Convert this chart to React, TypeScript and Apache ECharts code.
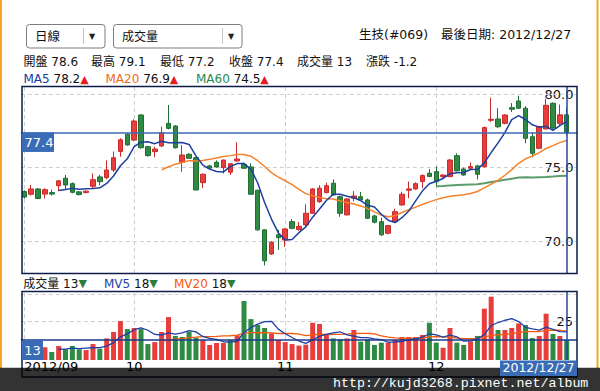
import React, { useEffect, useRef } from 'react';
import * as echarts from 'echarts';

const dates = [
  '2012/09/07', '2012/09/10', '2012/09/11', '2012/09/12', '2012/09/13', '2012/09/14', '2012/09/17', '2012/09/18',
  '2012/09/19', '2012/09/20', '2012/09/21', '2012/09/24', '2012/09/25', '2012/09/26', '2012/09/27', '2012/09/28',
  '2012/10/01', '2012/10/02', '2012/10/03', '2012/10/04', '2012/10/05', '2012/10/08', '2012/10/09', '2012/10/11',
  '2012/10/12', '2012/10/15', '2012/10/16', '2012/10/17', '2012/10/18', '2012/10/19', '2012/10/22', '2012/10/23',
  '2012/10/24', '2012/10/25', '2012/10/26', '2012/10/29', '2012/10/30', '2012/10/31',
  '2012/11/01', '2012/11/02', '2012/11/05', '2012/11/06', '2012/11/07', '2012/11/08', '2012/11/09', '2012/11/12',
  '2012/11/13', '2012/11/14', '2012/11/15', '2012/11/16', '2012/11/19', '2012/11/20', '2012/11/21', '2012/11/22',
  '2012/11/23', '2012/11/26', '2012/11/27', '2012/11/28', '2012/11/29', '2012/11/30',
  '2012/12/03', '2012/12/04', '2012/12/05', '2012/12/06', '2012/12/07', '2012/12/10', '2012/12/11', '2012/12/12',
  '2012/12/13', '2012/12/14', '2012/12/17', '2012/12/18', '2012/12/19', '2012/12/20', '2012/12/21', '2012/12/22',
  '2012/12/24', '2012/12/25', '2012/12/26', '2012/12/27',
];

const opens = [
  73.37, 73.19, 73.55, 73.2, 73.3, 73.77, 74.28, 73.91, 73.35, 73.3,
  73.73, 74.37, 74.32, 74.84, 76.1, 77.28, 76.88, 78.59, 76.43, 76.09,
  76.48, 78.02, 77.84, 75.37, 75.91, 75.68, 73.98, 75.12, 75.37, 75.0,
  74.69, 75.46, 75.23, 75.05, 73.46, 70.76, 69.12, 70.42, 70.07, 71.32,
  70.78, 71.1, 71.89, 72.68, 73.3, 73.94, 73.02, 71.78, 72.92, 73.02,
  72.8, 71.71, 71.32, 70.53, 71.32, 72.46, 73.46, 73.55, 74.05, 74.62,
  74.73, 74.39, 74.39, 75.82, 74.91, 74.96, 75.12, 75.07, 78.23, 78.32,
  78.02, 79.09, 79.54, 79.05, 77.11, 76.32, 77.64, 79.39, 78.02, 78.6,
];

const closes = [
  73.0, 73.55, 72.9, 73.5, 73.2, 74.1, 73.82, 73.32, 73.17, 73.4,
  74.18, 74.05, 74.84, 75.68, 76.9, 76.55, 78.18, 76.36, 75.82, 76.27,
  77.38, 77.68, 76.36, 75.86, 75.64, 73.48, 74.55, 74.96, 75.05, 75.52,
  75.27, 75.59, 74.96, 73.19, 70.76, 68.65, 69.92, 70.23, 70.82, 70.87,
  71.0, 71.89, 73.55, 73.6, 73.77, 73.14, 71.89, 72.87, 73.07, 72.8,
  71.55, 71.28, 70.42, 71.05, 72.0, 73.19, 73.55, 73.91, 74.46, 74.4,
  74.05, 74.5, 75.52, 74.78, 74.5, 75.07, 74.55, 77.73, 78.3, 77.79,
  78.59, 78.98, 79.05, 77.0, 75.98, 77.8, 79.25, 77.7, 78.6, 77.4,
];

const lows = [
  72.9, 73.1, 72.85, 72.9, 73.1, 73.4, 73.5, 73.25, 73.1, 73.25,
  73.6, 73.8, 74.2, 74.7, 75.75, 76.5, 76.8, 76.3, 75.75, 75.7,
  76.4, 77.6, 76.3, 74.72, 75.6, 73.45, 73.6, 74.9, 75.0, 74.6,
  74.5, 75.4, 74.9, 73.15, 70.7, 68.33, 69.05, 69.4, 69.6, 70.8,
  70.7, 71.0, 71.85, 72.6, 73.25, 73.1, 71.65, 71.75, 72.7, 72.75,
  71.5, 71.2, 70.35, 70.45, 71.3, 72.4, 72.92, 73.5, 73.6, 74.35,
  73.7, 74.3, 74.35, 74.75, 74.45, 74.9, 74.2, 75.0, 78.1, 77.7,
  77.95, 78.8, 79.0, 76.66, 75.7, 76.25, 77.6, 77.6, 77.9, 77.2,
];

const highs = [
  73.45, 73.82, 73.6, 73.6, 73.5, 74.15, 74.5, 74.0, 73.4, 73.45,
  74.6, 74.5, 75.5, 76.1, 77.0, 77.35, 78.3, 78.65, 76.5, 76.43,
  77.8, 79.27, 77.9, 76.54, 76.0, 75.75, 74.6, 75.2, 75.5, 75.55,
  75.3, 76.73, 75.35, 75.3, 73.5, 70.8, 70.0, 70.76, 70.85, 71.5,
  71.3, 72.5, 73.6, 73.8, 73.98, 74.2, 73.1, 72.9, 73.4, 73.35,
  72.9, 71.8, 71.6, 71.1, 72.2, 73.35, 74.05, 74.0, 74.55, 74.9,
  75.07, 74.55, 75.6, 75.98, 75.0, 75.35, 75.2, 77.8, 79.77, 79.05,
  78.65, 79.4, 79.9, 79.2, 77.4, 77.85, 79.7, 79.45, 79.3, 79.1,
];

const volumes = [
  7.0, 6.5, 6.0, 8.3, 5.2, 9.1, 7.0, 9.1, 7.0, 6.5,
  10.4, 7.4, 14.1, 18.3, 25.4, 20.2, 20.9, 20.2, 10.4, 11.7,
  18.3, 28.0, 15.7, 15.0, 18.5, 14.6, 13.0, 9.8, 11.1, 11.1,
  13.0, 16.1, 38.5, 26.7, 22.8, 20.9, 17.4, 13.0, 11.7, 10.4,
  9.4, 10.0, 24.3, 23.5, 16.7, 14.1, 13.5, 14.1, 19.6, 12.0,
  13.5, 9.8, 11.3, 11.3, 13.0, 15.0, 15.0, 15.0, 16.3, 24.3,
  11.3, 8.0, 20.9, 11.3, 9.8, 12.2, 15.7, 33.5, 41.3, 19.6,
  19.6, 20.9, 23.9, 22.8, 14.3, 15.7, 30.2, 17.0, 15.7, 13.0,
];

const priceTicks = [70, 75, 80];
const volumeTicks = [25];
const volumeGuides = [25, 43];
const stockLabel = '生技(#069)';
const lastDateLabel = '最後日期:';
const periodLabel = '日線';
const indicatorLabel = '成交量';
const watermark = 'http://kujd3268.pixnet.net/album';

const FONT = "'DejaVu Sans', 'Noto Sans CJK TC', sans-serif";
const RED = '#e63d3d';
const RED_B = '#c92a2a';
const GREEN = '#2f8a43';
const GREEN_B = '#1f6e32';
const BLUE_BOX = '#3a6cb5';
const FRAME = '#0d1c4a';

function movingAverage(values: number[], n: number): (number | string)[] {
  return values.map((_, i) => {
    if (i < n) return '-';
    let s = 0;
    for (let j = i - n + 1; j <= i; j++) s += values[j];
    return +(s / n).toFixed(4);
  });
}

function avgAt(values: number[], n: number, i: number): number {
  let s = 0;
  for (let j = i - n + 1; j <= i; j++) s += values[j];
  return s / n;
}

export default function App() {
  const ref = useRef<HTMLDivElement>(null);

  useEffect(() => {
    const el = ref.current;
    if (!el) return;
    const chart = echarts.init(el, null, { renderer: 'svg' });

    const n = dates.length;
    const last = n - 1;
    const axisDates = [...dates, ''];
    const monthStarts = dates
      .map((d, i) => (i === 0 || d.slice(5, 7) !== dates[i - 1].slice(5, 7) ? i : -1))
      .filter((i) => i >= 0);

    const candles = dates.map((_, i) => [opens[i], closes[i], lows[i], highs[i]]);
    const volData = volumes.map((v, i) => {
      const up = i === 0 ? closes[0] >= opens[0] : closes[i] >= closes[i - 1];
      return { value: v, itemStyle: { color: up ? RED : GREEN } };
    });

    const ma5 = movingAverage(closes, 5);
    const ma20 = movingAverage(closes, 20);
    const ma60 = movingAverage(closes, 60);
    const mv5 = movingAverage(volumes, 5);
    const mv20 = movingAverage(volumes, 20);

    const gridLeft = 20.87;
    const gridWidth = 556.13;

    const guideStyle = { color: '#cfcfcf', type: [4, 3] as any, width: 1 };

    chart.setOption({
      animation: false,
      backgroundColor: '#ffffff',
      grid: [
        { left: gridLeft, top: 86, width: gridWidth, height: 187 },
        { left: gridLeft, top: 291.5, width: gridWidth, height: 68.5 },
      ],
      xAxis: [
        {
          type: 'category', gridIndex: 0, data: axisDates, boundaryGap: true,
          axisLine: { show: false }, axisTick: { show: false }, axisLabel: { show: false }, splitLine: { show: false },
        },
        {
          type: 'category', gridIndex: 1, data: axisDates, boundaryGap: true,
          axisLine: { show: false }, axisTick: { show: false }, splitLine: { show: false },
          axisLabel: {
            interval: (i: number) => monthStarts.includes(i),
            formatter: (v: string, i: number) => (i === 0 ? v.slice(0, 7) : String(Number(v.slice(5, 7)))),
            color: '#000', fontSize: 13, lineHeight: 13, fontFamily: FONT, margin: 0, alignMinLabel: 'left',
          },
        },
      ],
      yAxis: [
        {
          type: 'value', gridIndex: 0, position: 'right', min: 67.82, max: 80.566,
          axisLine: { show: false }, axisTick: { show: false }, splitLine: { show: false },
          axisLabel: {
            inside: true, margin: 3.5, customValues: priceTicks,
            formatter: (v: number) => v.toFixed(1), color: '#111', fontSize: 13, fontFamily: FONT,
          },
        },
        {
          type: 'value', gridIndex: 1, position: 'right', min: 0, max: 44.7,
          axisLine: { show: false }, axisTick: { show: false }, splitLine: { show: false },
          axisLabel: {
            inside: true, margin: 4, customValues: volumeTicks,
            formatter: (v: number) => String(v), color: '#111', fontSize: 13, fontFamily: FONT,
          },
        },
      ],
      series: [
        {
          type: 'candlestick', xAxisIndex: 0, yAxisIndex: 0, data: candles, barWidth: 5, silent: true,
          itemStyle: { color: RED, color0: GREEN, borderColor: RED_B, borderColor0: GREEN_B, borderWidth: 1 },
          markLine: {
            silent: true, z: 1, symbol: ['none', 'none'], label: { show: false }, lineStyle: guideStyle,
            emphasis: { disabled: true },
            data: [
              ...priceTicks.map((v) => ({ yAxis: v })),
              ...monthStarts.map((i) => ({ xAxis: dates[i] })),
            ],
          },
        },
        {
          type: 'line', xAxisIndex: 0, yAxisIndex: 0, data: ma60, showSymbol: false, symbol: 'none', silent: true,
          lineStyle: { color: '#5a9d6a', width: 2 },
        },
        {
          type: 'line', xAxisIndex: 0, yAxisIndex: 0, data: ma20, showSymbol: false, symbol: 'none', silent: true,
          lineStyle: { color: '#f5822a', width: 1.5 },
        },
        {
          type: 'line', xAxisIndex: 0, yAxisIndex: 0, data: ma5, showSymbol: false, symbol: 'none', silent: true,
          lineStyle: { color: '#1d3fa0', width: 1.5 },
          markLine: {
            silent: true, z: 6, symbol: ['none', 'none'], label: { show: false }, emphasis: { disabled: true },
            data: [
              { yAxis: closes[last], lineStyle: { color: '#3b6bb3', width: 1.5, type: 'solid' } },
              { xAxis: dates[last], lineStyle: { color: '#2149a0', width: 1.5, type: 'solid' } },
            ],
          },
        },
        {
          type: 'bar', xAxisIndex: 1, yAxisIndex: 1, data: volData, barWidth: 5, silent: true,
          markLine: {
            silent: true, z: 1, symbol: ['none', 'none'], label: { show: false }, lineStyle: guideStyle,
            emphasis: { disabled: true },
            data: [
              ...volumeGuides.map((v) => ({ yAxis: v })),
              ...monthStarts.map((i) => ({ xAxis: dates[i] })),
            ],
          },
        },
        {
          type: 'line', xAxisIndex: 1, yAxisIndex: 1, data: mv20, showSymbol: false, symbol: 'none', silent: true,
          lineStyle: { color: '#f55a0c', width: 1.3 },
        },
        {
          type: 'line', xAxisIndex: 1, yAxisIndex: 1, data: mv5, showSymbol: false, symbol: 'none', silent: true,
          lineStyle: { color: '#1f3fa8', width: 1.3 },
          markLine: {
            silent: true, z: 6, symbol: ['none', 'none'], label: { show: false }, emphasis: { disabled: true },
            data: [
              { yAxis: volumes[last], lineStyle: { color: '#1a3a8c', width: 1.5, type: 'solid' } },
              { xAxis: dates[last], lineStyle: { color: '#2149a0', width: 1.5, type: 'solid' } },
            ],
          },
        },
      ],
    });

    const pClose = chart.convertToPixel({ gridIndex: 0 }, [last, closes[last]]) as number[];
    const pVol = chart.convertToPixel({ gridIndex: 1 }, [last, volumes[last]]) as number[];
    const pVolBase = chart.convertToPixel({ gridIndex: 1 }, [last, 0]) as number[];

    const fmt1 = (v: number) => v.toFixed(1);
    const arrow = (cur: number, prev: number) => (cur >= prev ? '▲' : '▼');
    const arrowColor = (cur: number, prev: number) => (cur >= prev ? '#e02020' : '#2a7d3a');
    const change = closes[last] - closes[last - 1];

    const ma5L = avgAt(closes, 5, last), ma5P = avgAt(closes, 5, last - 1);
    const ma20L = avgAt(closes, 20, last), ma20P = avgAt(closes, 20, last - 1);
    const ma60L = avgAt(closes, 60, last), ma60P = avgAt(closes, 60, last - 1);
    const mv5L = avgAt(volumes, 5, last), mv5P = avgAt(volumes, 5, last - 1);
    const mv20L = avgAt(volumes, 20, last), mv20P = avgAt(volumes, 20, last - 1);

    const txt = (x: number, y: number, text: string, size = 12, fill = '#111', extra: any = {}, z = 20) => ({
      type: 'text', x, y, z,
      style: { text, fill, fontSize: size, fontFamily: FONT, verticalAlign: 'middle', align: 'left', ...extra },
    });

    const legend = (x: number, y: number, name: string, nameColor: string, value: string, ar: string, arColor: string) => ({
      type: 'text', x, y, z: 20,
      style: {
        text: `{n|${name}} {v|${value}}{a|${ar}}`,
        verticalAlign: 'middle', align: 'left', fontFamily: FONT, fontSize: 12,
        rich: {
          n: { fill: nameColor, fontSize: 12, fontFamily: FONT },
          v: { fill: '#111', fontSize: 12, fontFamily: FONT },
          a: { fill: arColor, fontSize: 11, fontFamily: FONT },
        },
      },
    });

    const graphics: any[] = [
      // side borders
      { type: 'line', z: 30, shape: { x1: 1, y1: 0, x2: 1, y2: 368 }, style: { stroke: '#f5a623', lineWidth: 2 } },
      { type: 'line', z: 30, shape: { x1: 597.5, y1: 0, x2: 597.5, y2: 368 }, style: { stroke: '#f5a623', lineWidth: 2 } },
      // select boxes
      { type: 'rect', z: 20, shape: { x: 26.5, y: 24.5, width: 78.5, height: 23.5, r: 3 }, style: { fill: '#fff', stroke: '#7d7d7d', lineWidth: 1 } },
      { type: 'line', z: 21, shape: { x1: 83.5, y1: 28, x2: 83.5, y2: 44 }, style: { stroke: '#c4c4c4', lineWidth: 1 } },
      txt(35, 36.5, periodLabel, 12.5, '#111', {}, 22),
      txt(89, 36.5, '▼', 8, '#222', {}, 22),
      { type: 'rect', z: 20, shape: { x: 113.5, y: 24.5, width: 128.5, height: 23.5, r: 3 }, style: { fill: '#fff', stroke: '#7d7d7d', lineWidth: 1 } },
      { type: 'line', z: 21, shape: { x1: 222.5, y1: 28, x2: 222.5, y2: 44 }, style: { stroke: '#c4c4c4', lineWidth: 1 } },
      txt(122, 36.5, indicatorLabel, 12, '#111', {}, 22),
      txt(228, 36.5, '▼', 8, '#222', {}, 22),
      // top right
      txt(359, 34.5, stockLabel, 12.5),
      txt(441, 34.5, `${lastDateLabel} ${dates[last]}`, 12.5),
      // quote row
      txt(23.5, 62, `開盤 ${fmt1(opens[last])}`),
      txt(91, 62, `最高 ${fmt1(highs[last])}`),
      txt(160, 62, `最低 ${fmt1(lows[last])}`),
      txt(229, 62, `收盤 ${fmt1(closes[last])}`),
      txt(297, 62, `成交量 ${Math.floor(volumes[last])}`),
      txt(366, 62, `漲跌 ${fmt1(change)}`),
      // MA legend
      legend(23.5, 79, 'MA5', '#1a3a9e', fmt1(ma5L), arrow(ma5L, ma5P), arrowColor(ma5L, ma5P)),
      legend(105.5, 79, 'MA20', '#f26a1b', fmt1(ma20L), arrow(ma20L, ma20P), arrowColor(ma20L, ma20P)),
      legend(196, 79, 'MA60', '#2b8a4a', fmt1(ma60L), arrow(ma60L, ma60P), arrowColor(ma60L, ma60P)),
      // volume legend
      legend(23.3, 283.5, '成交量', '#111', String(Math.floor(volumes[last])), arrow(volumes[last], volumes[last - 1]), arrowColor(volumes[last], volumes[last - 1])),
      legend(104, 283.5, 'MV5', '#1f3fa8', String(Math.floor(mv5L)), arrow(mv5L, mv5P), arrowColor(mv5L, mv5P)),
      legend(174, 283.5, 'MV20', '#f55a0c', String(Math.floor(mv20L)), arrow(mv20L, mv20P), arrowColor(mv20L, mv20P)),
      // frames
      { type: 'rect', z: 25, shape: { x: 22, y: 86.5, width: 555, height: 187 }, style: { fill: 'none', stroke: FRAME, lineWidth: 1.5 } },
      { type: 'rect', z: 25, shape: { x: 22, y: 291.5, width: 555, height: 85.5 }, style: { fill: 'none', stroke: FRAME, lineWidth: 1.5 } },
      // close price box
      { type: 'rect', z: 26, shape: { x: 22, y: pClose[1], width: 32, height: 19.5 }, style: { fill: BLUE_BOX } },
      txt(24.5, pClose[1] + 10, fmt1(closes[last]), 13, '#fff', {}, 27),
      // volume box
      { type: 'rect', z: 26, shape: { x: 22, y: pVol[1], width: 21, height: pVolBase[1] - pVol[1] }, style: { fill: BLUE_BOX } },
      txt(32.5, (pVol[1] + pVolBase[1]) / 2, String(Math.floor(volumes[last])), 13, '#fff', { align: 'center' }, 27),
      // bottom overlay with watermark
      { type: 'rect', z: 40, shape: { x: 0, y: 367.7, width: 600, height: 24 }, style: { fill: 'rgba(0,0,0,0.8)' } },
      // date box (cursor label)
      { type: 'rect', z: 42, shape: { x: 500, y: pVolBase[1] + 0.5, width: 77, height: 15.5 }, style: { fill: BLUE_BOX } },
      txt(538.5, pVolBase[1] + 7.8, dates[last], 12.5, '#fff', { align: 'center', lineHeight: 12.5 }, 43),
      { type: 'text', z: 44, x: 333, y: 383.5, style: { text: watermark, fill: '#ffffff', fontSize: 13.3, lineHeight: 13, fontFamily: "'Liberation Mono', 'DejaVu Sans Mono', monospace", verticalAlign: 'middle', align: 'left' } },
    ];

    chart.setOption({ graphic: graphics });

    return () => chart.dispose();
  }, []);

  return (
    <div
      ref={ref}
      style={{ position: 'absolute', left: 0, top: 0, width: 600, height: 391, background: '#fff' }}
    />
  );
}
